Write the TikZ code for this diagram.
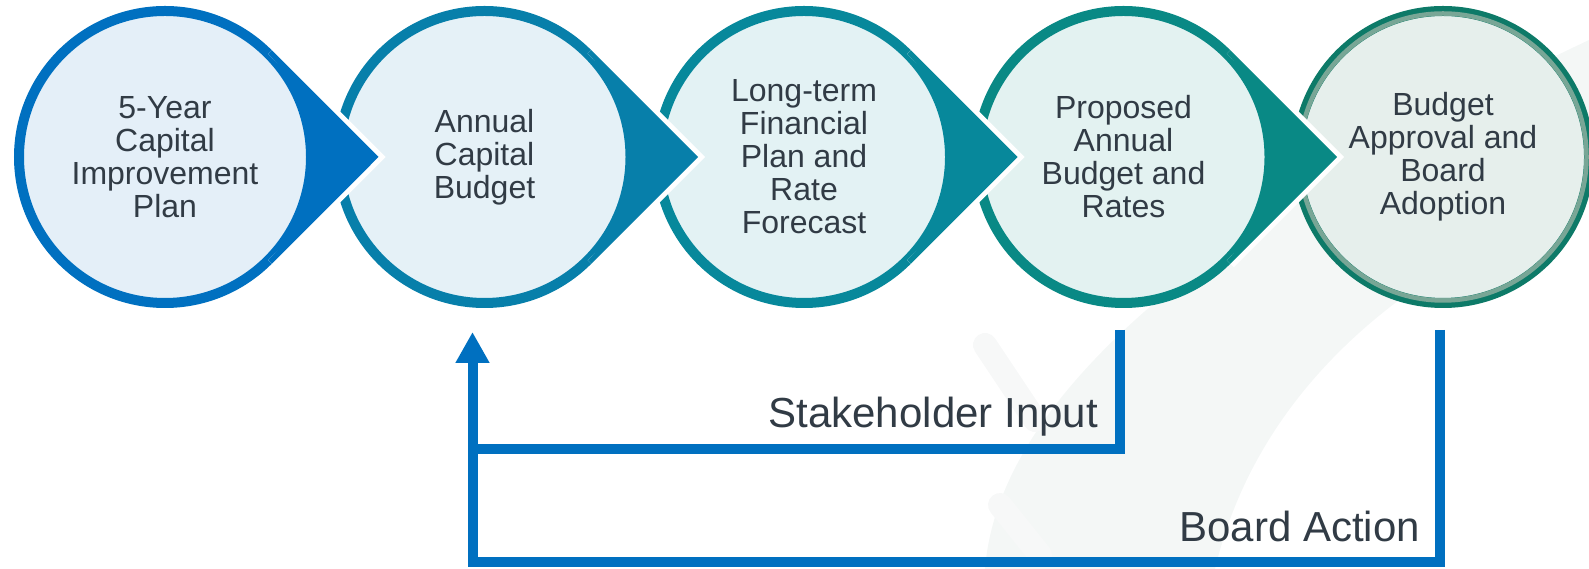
\documentclass[tikz,border=0pt]{standalone}
\usepackage{fontspec}
\setmainfont{Liberation Sans}
\usepackage{tikz}
\usetikzlibrary{positioning}
\usetikzlibrary{arrows.meta}
\definecolor{ink}{HTML}{313B45}
\definecolor{flowblue}{HTML}{0070C0}
\definecolor{ringA}{HTML}{0070C0}
\definecolor{ringB}{HTML}{077FAA}
\definecolor{ringC}{HTML}{07889B}
\definecolor{ringD}{HTML}{098985}
\definecolor{ringE}{HTML}{0D7A68}
\definecolor{ringEl}{HTML}{78A696}
\definecolor{fillA}{HTML}{E4EFF8}
\definecolor{fillB}{HTML}{E5F1F7}
\definecolor{fillC}{HTML}{E3F2F4}
\definecolor{fillD}{HTML}{E3F2F1}
\definecolor{fillE}{HTML}{E6EFEC}
\definecolor{wmband}{HTML}{F4F7F6}
\definecolor{wmpill}{HTML}{F7F8F8}

% pointed end of a stage, laid over the next circle
\newcommand{\stagetip}[2]{%
  \draw[white, line width=10pt] ([shift={(45:151pt)}]#1.center) -- ([xshift=213.5pt]#1.center) -- ([shift={(-45:151pt)}]#1.center);
  \fill[#2] ([shift={(45:151pt)}]#1.center) -- ([xshift=213.5pt]#1.center) -- ([shift={(-45:151pt)}]#1.center)
    -- ([shift={(-45:146pt)}]#1.center) arc[start angle=-45, end angle=45, radius=146pt] -- cycle;
}

\begin{document}
\begin{tikzpicture}[x=1pt, y=1pt, >={Triangle[width=32pt, length=31pt]},
    node distance=319.5pt,
    stage/.style = {circle, minimum size=292pt, inner sep=0pt, line width=10pt, align=center,
      text=ink, font=\fontsize{32}{33}\selectfont},
    tag/.style = {text=ink, inner sep=0pt, font=\fontsize{42}{48}\selectfont},
    flow/.style = {draw=flowblue, line width=10pt}
    ]
    \useasboundingbox (0,0) rectangle (1589,569);
    \begin{scope}
      \clip (0,0) rectangle (1589,569);
      \fill[wmband] (985,0) .. controls (1000,189) and (1250,369) .. (1589,529)
        -- (1589,369) .. controls (1420,309) and (1260,189) .. (1215,0) -- cycle;
      \draw[wmpill, line width=24pt, line cap=round] (985,224) -- (1035,149);
      \draw[wmpill, line width=24pt, line cap=round] (1000,64) -- (1040,14);
    \end{scope}

    \node[stage, draw=ringA, fill=fillA] (plan) at (165,412) {5-Year\\Capital\\Improvement\\Plan};
    \node[stage, draw=ringB, fill=fillB] (annual) [right of=plan] {Annual\\Capital\\Budget};
    \stagetip{plan}{ringA}
    \node[stage, draw=ringC, fill=fillC] (forecast) [right of=annual] {Long-term\\Financial\\Plan and\\Rate\\Forecast};
    \stagetip{annual}{ringB}
    \node[stage, draw=ringD, fill=fillD] (proposed) [right of=forecast] {Proposed\\Annual\\Budget and\\Rates};
    \stagetip{forecast}{ringC}
    \node[stage, draw=ringE, fill=fillE] (adopt) [right of=proposed] {Budget\\Approval and\\Board\\Adoption};
    \draw[ringEl, line width=4.5pt] (adopt.center) circle[radius=143.5pt];
    \stagetip{proposed}{ringD}

    \node[tag, anchor=base east] (stakein) at (1098,141) {Stakeholder Input};
    \node[tag, anchor=base east] (boardact) at (1420,27) {Board Action};

    \draw[flow] ([xshift=-3.5pt, yshift=-22pt]proposed.south) |- ([xshift=-12pt, yshift=-141pt]annual.south);
    \draw[flow, ->] ([xshift=-3.5pt, yshift=-22pt]adopt.south) |- ([xshift=-12pt, yshift=-254pt]annual.south)
      -- ([xshift=-12pt, yshift=-24pt]annual.south);
\end{tikzpicture}
\end{document}
